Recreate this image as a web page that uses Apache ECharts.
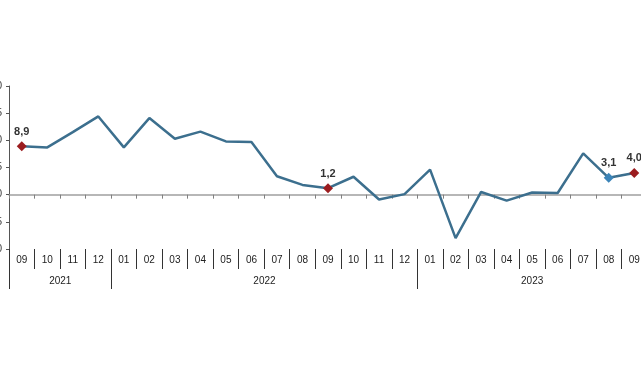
<!DOCTYPE html>
<html>
<head>
<meta charset="utf-8">
<script src="https://cdn.jsdelivr.net/npm/echarts@6/dist/echarts.min.js"></script>
<style>
  html, body { margin: 0; padding: 0; background: #ffffff; }
  #chart { width: 641px; height: 380px; }
</style>
</head>
<body>
<div id="chart"></div>
<script>
// ---- data ----
const months = ['09','10','11','12','01','02','03','04','05','06','07','08','09','10','11','12','01','02','03','04','05','06','07','08','09'];
const years = ['2021','2022','2023'];
const values = [8.9, 8.7, 11.5, 14.4, 8.7, 14.1, 10.3, 11.6, 9.8, 9.7, 3.4, 1.8, 1.2, 3.3, -0.9, 0.1, 4.6, -8.0, 0.5, -1.1, 0.4, 0.3, 7.6, 3.1, 4.0];
const redPoints = [0, 12, 24];
const bluePoints = [23];
const yTicks = { min: -10, max: 20, step: 5 };

// ---- year spans from month list ----
const yearStarts = [0];
months.forEach((m, i) => { if (i > 0 && m === '01') yearStarts.push(i); });
const yearSpans = yearStarts.map((s, k) => {
  const e = (k + 1 < yearStarts.length ? yearStarts[k + 1] : months.length) - 1;
  return { start: s, end: e, center: (s + e) / 2, label: years[k] };
});
const yearLabelAt = {};
yearSpans.forEach(sp => { yearLabelAt[Math.floor(sp.center)] = sp; });

const FONT = 'Liberation Sans, Arial, sans-serif';
const RED = '#9b1c1f';
const BLUE = '#3b84b8';

const seriesData = values.map((v, i) => {
  const isRed = redPoints.includes(i);
  const isBlue = bluePoints.includes(i);
  if (isRed || isBlue) {
    return {
      value: v,
      symbol: 'diamond',
      symbolSize: 10,
      itemStyle: { color: isRed ? RED : BLUE },
      label: { show: true }
    };
  }
  return { value: v, symbol: 'none' };
});

const chart = echarts.init(document.getElementById('chart'), null, { renderer: 'canvas' });
chart.setOption({
  animation: false,
  backgroundColor: '#ffffff',
  grid: { left: 9, top: 86, width: 638, height: 163, containLabel: false, outerBoundsMode: 'none' },
  xAxis: [
    {
      type: 'category', data: months, boundaryGap: true,
      axisLine: { show: true, onZero: true, lineStyle: { color: '#a0a0a0', width: 1.5 } },
      axisTick: { show: true, interval: 0, length: 4, lineStyle: { color: '#808080' } },
      axisLabel: { show: false },
      splitLine: { show: false }
    },
    {
      type: 'category', data: months, boundaryGap: true, position: 'bottom',
      axisLine: { show: false, onZero: false },
      axisTick: { show: true, interval: 0, length: 20, lineStyle: { color: '#333333' } },
      axisLabel: { show: true, interval: 0, margin: 6, fontSize: 10, color: '#222222', fontFamily: FONT },
      splitLine: { show: false }
    },
    {
      type: 'category', data: months, boundaryGap: true, position: 'bottom',
      axisLine: { show: false, onZero: false },
      axisTick: {
        show: true, length: 40, lineStyle: { color: '#333333' },
        interval: (i) => yearStarts.includes(i)
      },
      axisLabel: {
        show: true, margin: 27, fontSize: 10, color: '#222222', fontFamily: FONT,
        interval: (i) => yearLabelAt[i] !== undefined,
        formatter: (val, i) => {
          const sp = yearLabelAt[i];
          if (!sp) return '';
          return (sp.center % 1 !== 0) ? '{h|' + sp.label + '}' : '{c|' + sp.label + '}';
        },
        rich: {
          h: { padding: [0, 0, 0, 26], fontSize: 10, color: '#222222', fontFamily: FONT },
          c: { fontSize: 10, color: '#222222', fontFamily: FONT }
        }
      },
      splitLine: { show: false }
    }
  ],
  yAxis: {
    type: 'value', min: yTicks.min, max: yTicks.max, interval: yTicks.step,
    axisLine: { show: true, lineStyle: { color: '#555555', width: 1 } },
    axisTick: { show: true, length: 3, lineStyle: { color: '#555555' } },
    axisLabel: { show: true, margin: 7, fontSize: 10, color: '#333333', fontFamily: FONT },
    splitLine: { show: false }
  },
  series: [{
    type: 'line',
    xAxisIndex: 0,
    data: seriesData,
    showSymbol: true,
    lineStyle: { color: '#3c6f8e', width: 2.5 },
    itemStyle: { color: '#3c6f8e' },
    label: {
      show: false, position: 'top', distance: 4,
      fontSize: 11, fontWeight: 'bold', color: '#333333', fontFamily: FONT,
      formatter: (p) => p.value.toFixed(1).replace('.', ',')
    },
    z: 3
  }]
});
</script>
</body>
</html>
